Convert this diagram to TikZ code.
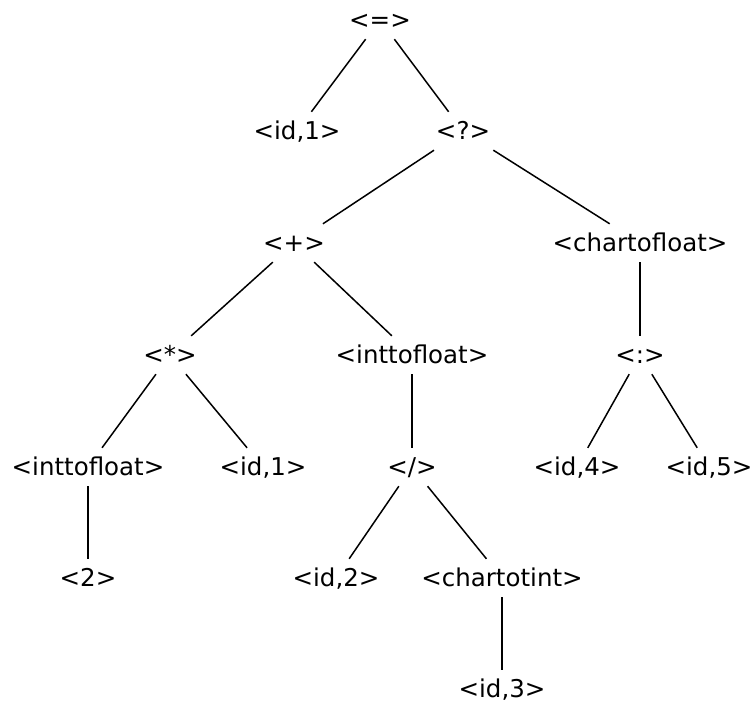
\documentclass[tikz,border=0pt]{standalone}
\usepackage{fontspec}
\setmainfont{DejaVu Sans}
\begin{document}
\begin{tikzpicture}[x=1bp,y=-1bp,
  tn/.style={inner xsep=4bp, inner ysep=0pt, text height=27.8bp, text depth=10.2bp,
             font=\fontsize{24.5bp}{29bp}\selectfont},
  low/.style={text height=18.6bp, text depth=1bp},
  edge/.style={line width=1.5bp}]
\useasboundingbox (0,0) rectangle (753,703);
\node[tn] (eq)    at (380,20)  {<=>};
\node[tn] (id1a)  at (297,131) {<id,1>};
\node[tn] (q)     at (463,131) {<?>};
\node[tn] (plus)  at (294,243) {<+>};
\node[tn] (c2f)   at (640,243) {<chartofloat>};
\node[tn] (mul)   at (170,355) {<*>};
\node[tn] (i2f)   at (412,355) {<inttofloat>};
\node[tn] (colon) at (640,355) {<:>};
\node[tn] (i2fb)  at (88,467)  {<inttofloat>};
\node[tn] (id1b)  at (263,467) {<id,1>};
\node[tn] (div)   at (412,467) {</>};
\node[tn] (id4)   at (577,467) {<id,4>};
\node[tn] (id5)   at (709,467) {<id,5>};
\node[tn] (two)   at (88,578)  {<2>};
\node[tn] (id2)   at (336,578) {<id,2>};
\node[tn] (c2i)   at (502,578) {<chartotint>};
\node[tn,low] (id3) at (502,689) {<id,3>};
\draw[edge] (eq) -- (id1a);
\draw[edge] (eq) -- (q);
\draw[edge] (q) -- (plus);
\draw[edge] (q) -- (c2f);
\draw[edge] (plus) -- (mul);
\draw[edge] (plus) -- (i2f);
\draw[edge] (c2f) -- (colon);
\draw[edge] (mul) -- (i2fb);
\draw[edge] (mul) -- (id1b);
\draw[edge] (i2f) -- (div);
\draw[edge] (colon) -- (id4);
\draw[edge] (colon) -- (id5);
\draw[edge] (i2fb) -- (two);
\draw[edge] (div) -- (id2);
\draw[edge] (div) -- (c2i);
\draw[edge] (c2i) -- ([yshift=9bp]id3.north);
\end{tikzpicture}
\end{document}
